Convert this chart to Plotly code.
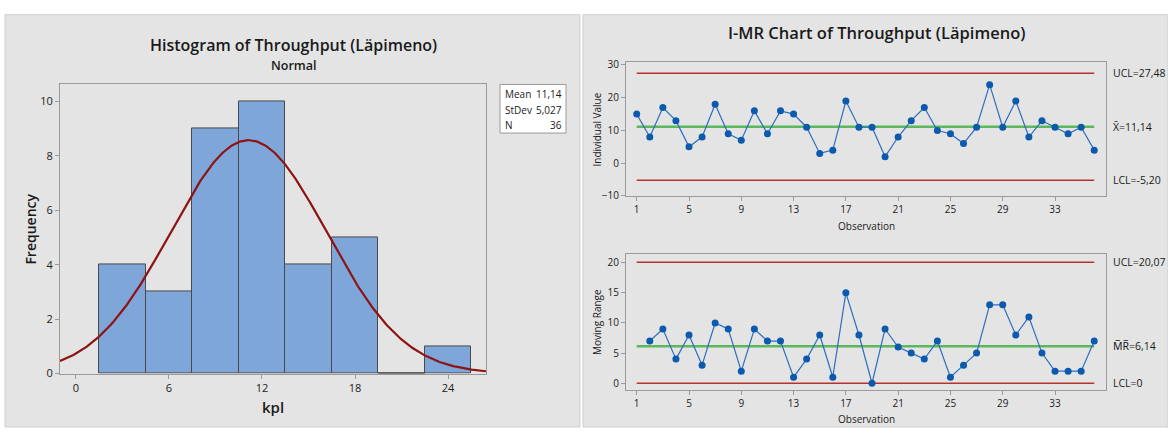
import numpy as np
import plotly.graph_objects as go

# ---------------- data ----------------
throughput = [15, 8, 17, 13, 5, 8, 18, 9, 7, 16, 9, 16, 15, 11, 3, 4, 19, 11,
              11, 2, 8, 13, 17, 10, 9, 6, 11, 24, 11, 19, 8, 13, 11, 9, 11, 4]
observations = list(range(1, 37))
moving_range = [7, 9, 4, 8, 3, 10, 9, 2, 9, 7, 7, 1, 4, 8, 1, 15, 8, 0, 9, 6,
                5, 4, 7, 1, 3, 5, 13, 13, 8, 11, 5, 2, 2, 2, 7]
mr_obs = list(range(2, 37))

bin_mids = [3, 6, 9, 12, 15, 18, 21, 24]
bin_counts = [4, 3, 9, 10, 4, 5, 0, 1]
bin_width = 3

stat_mean = 11.14
stat_stdev = 5.027
stat_n = 36

i_ucl, i_center, i_lcl = 27.48, 11.14, -5.20
mr_ucl, mr_center, mr_lcl = 20.07, 6.14, 0.0

hist_xticks = [0, 6, 12, 18, 24]
hist_yticks = [0, 2, 4, 6, 8, 10]
obs_ticks = [1, 5, 9, 13, 17, 21, 25, 29, 33]

# ---------------- helpers ----------------
W, H = 1168, 434
def px(x):
    return x / W
def py(y):
    return 1 - y / H

FONT = "Open Sans, Noto Sans, sans-serif"
PANEL = "#e4e4e4"
BORDER = "#9a9a9a"
BLUE = "#0b5aad"
RED = "#b8312f"
GREEN = "#5cb85c"

fig = go.Figure()

# ---------------- histogram ----------------
fig.add_trace(go.Bar(
    x=bin_mids, y=bin_counts, width=[bin_width] * len(bin_mids),
    marker=dict(color="#7ea6d8", line=dict(color="#4a4a4a", width=1)),
    xaxis="x", yaxis="y", showlegend=False, hoverinfo="x+y"))

xr_hist = [-1.03, 26.45]
xc = np.linspace(xr_hist[0], xr_hist[1], 300)
yc = stat_n * bin_width * np.exp(-0.5 * ((xc - stat_mean) / stat_stdev) ** 2) / (stat_stdev * np.sqrt(2 * np.pi))
fig.add_trace(go.Scatter(x=xc, y=yc, mode="lines",
                         line=dict(color="#8e1414", width=2.2),
                         xaxis="x", yaxis="y", showlegend=False, hoverinfo="skip"))

zero_lines = []
for m, c in zip(bin_mids, bin_counts):
    if c == 0:
        zero_lines.append(dict(type="line", xref="x", yref="y",
                               x0=m - bin_width / 2, x1=m + bin_width / 2, y0=0, y1=0,
                               line=dict(color="#4a4a4a", width=1.5)))

# ---------------- I chart ----------------
for val, col in [(i_ucl, RED), (i_lcl, RED), (i_center, GREEN)]:
    fig.add_trace(go.Scatter(x=[observations[0], observations[-1]], y=[val, val], mode="lines",
                             line=dict(color=col, width=2.5 if col == GREEN else 1.6),
                             xaxis="x2", yaxis="y2", showlegend=False, hoverinfo="skip"))
fig.add_trace(go.Scatter(x=observations, y=throughput, mode="lines+markers",
                         line=dict(color="#2d6fbf", width=1.2),
                         marker=dict(color=BLUE, size=7),
                         xaxis="x2", yaxis="y2", showlegend=False))

# ---------------- MR chart ----------------
for val, col in [(mr_ucl, RED), (mr_lcl, RED), (mr_center, GREEN)]:
    fig.add_trace(go.Scatter(x=[observations[0], observations[-1]], y=[val, val], mode="lines",
                             line=dict(color=col, width=2.5 if col == GREEN else 1.6),
                             xaxis="x3", yaxis="y3", showlegend=False, hoverinfo="skip"))
fig.add_trace(go.Scatter(x=mr_obs, y=moving_range, mode="lines+markers",
                         line=dict(color="#2d6fbf", width=1.2),
                         marker=dict(color=BLUE, size=7),
                         xaxis="x3", yaxis="y3", showlegend=False))

# ---------------- panels ----------------
shapes = [
    dict(type="rect", xref="paper", yref="paper", x0=px(5), x1=px(580), y0=py(434), y1=py(10),
         fillcolor=PANEL, line=dict(color="#cfcfcf", width=1), layer="below"),
    dict(type="rect", xref="paper", yref="paper", x0=px(583), x1=px(1168), y0=py(434), y1=py(10),
         fillcolor=PANEL, line=dict(color="#cfcfcf", width=1), layer="below"),
    dict(type="rect", xref="paper", yref="paper", x0=px(500), x1=px(566), y0=py(131.7), y1=py(81.7),
         fillcolor="white", line=dict(color=BORDER, width=1)),
] + zero_lines

tick_font = dict(family=FONT, size=11, color="#222")
small_tick = dict(family=FONT, size=10, color="#222")

def ax(domain, rng, ticks, font, anchor):
    return dict(domain=domain, range=rng, tickvals=ticks, tickfont=font, anchor=anchor,
                showgrid=False, zeroline=False, showline=True, mirror=True,
                linecolor=BORDER, linewidth=1, ticks="outside", ticklen=4,
                tickcolor=BORDER, fixedrange=True)

layout = dict(
    width=W, height=H, margin=dict(l=0, r=0, t=0, b=0),
    paper_bgcolor="white", plot_bgcolor="white",
    font=dict(family=FONT, color="#222"),
    xaxis=ax([px(60), px(486)], xr_hist, hist_xticks, tick_font, "y"),
    yaxis=ax([py(379), py(81.7)], [0, 10.62], hist_yticks, tick_font, "x"),
    xaxis2=ax([px(626), px(1106)], [0.18, 36.9], obs_ticks, small_tick, "y2"),
    yaxis2=ax([py(196.5), py(59)], [-10.03, 30.8], [-10, 0, 10, 20, 30], small_tick, "x2"),
    xaxis3=ax([px(626), px(1106)], [0.18, 36.9], obs_ticks, small_tick, "y3"),
    yaxis3=ax([py(396), py(256)], [-1.13, 21.45], [0, 5, 10, 15, 20], small_tick, "x3"),
    shapes=shapes,
    bargap=0,
)
fig.update_layout(**layout)

ann = []
def text(x, y, s, size, weight=400, xanchor="center", yanchor="middle", angle=0):
    ann.append(dict(x=px(x), y=py(y), xref="paper", yref="paper", text=s, showarrow=False,
                    textangle=angle, xanchor=xanchor, yanchor=yanchor,
                    font=dict(family=FONT, size=size, color="#1a1a1a", weight=weight)))

text(293, 41, "Histogram of Throughput (Läpimeno)", 16, 600)
text(293, 62, "Normal", 12.5, 600)
text(31, 231, "Frequency", 14, 600, angle=-90)
text(273, 413, "kpl", 15, 600)

text(503, 92, "Mean", 10, xanchor="left")
text(564, 92, f"{stat_mean:.2f}".replace(".", ","), 10, xanchor="right")
text(503, 107.5, "StDev", 10, xanchor="left")
text(564, 107.5, f"{stat_stdev:.3f}".replace(".", ","), 10, xanchor="right")
text(503, 123, "N", 10, xanchor="left")
text(564, 123, str(stat_n), 10, xanchor="right")

text(876, 28, "I-MR Chart of Throughput (Läpimeno)", 16.5, 600)
text(597, 128, "Individual Value", 10, angle=-90)
text(866, 227, "Observation", 10)
text(597, 326, "Moving Range", 10, angle=-90)
text(866, 426, "Observation", 10)

def lim_label(s, val, yref):
    ann.append(dict(x=px(1111), y=val, xref="paper", yref=yref, text=s, showarrow=False,
                    xanchor="left", yanchor="middle",
                    font=dict(family=FONT, size=10.5, color="#1a1a1a")))

lim_label("UCL=" + f"{i_ucl:.2f}".replace(".", ","), i_ucl, "y2")
lim_label("X\u0304=" + f"{i_center:.2f}".replace(".", ","), i_center, "y2")
lim_label("LCL=" + f"{i_lcl:.2f}".replace(".", ","), i_lcl, "y2")
lim_label("UCL=" + f"{mr_ucl:.2f}".replace(".", ","), mr_ucl, "y3")
lim_label("M\u0305R\u0305=" + f"{mr_center:.2f}".replace(".", ","), mr_center, "y3")
lim_label("LCL=" + f"{mr_lcl:.0f}", mr_lcl, "y3")

fig.update_layout(annotations=ann)
fig.write_html("out.html")
